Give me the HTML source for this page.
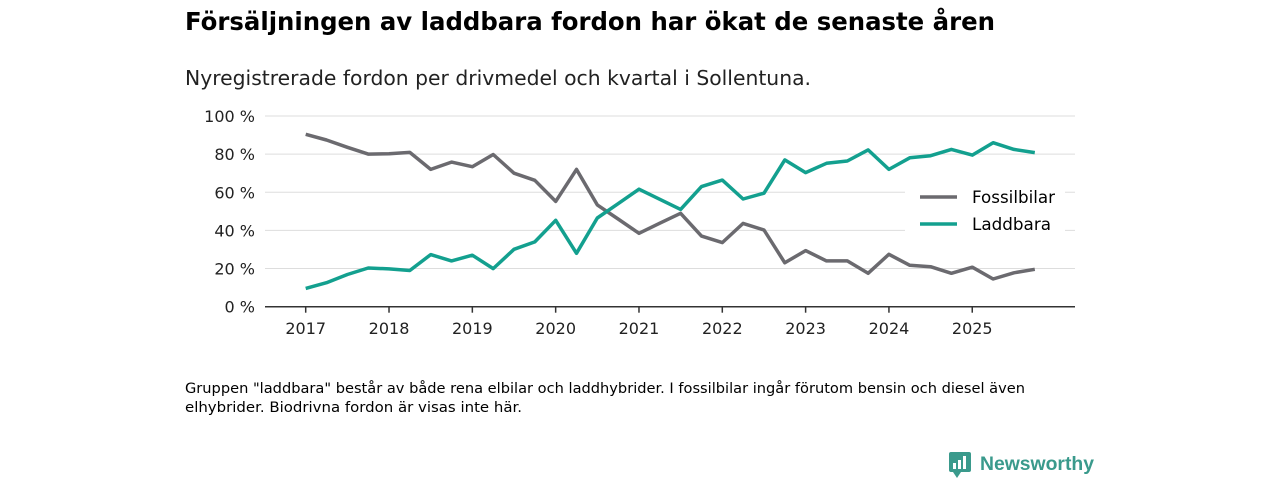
<!DOCTYPE html>
<html><head><meta charset="utf-8"><style>
body{margin:0;width:1280px;height:480px;background:#fff;overflow:hidden;font-family:"DejaVu Sans","Liberation Sans",sans-serif;color:#111}
</style></head><body>
<svg width="1280" height="480" xmlns="http://www.w3.org/2000/svg" font-family="'DejaVu Sans','Liberation Sans',sans-serif">
<text x="185" y="30" font-size="25" font-weight="bold" textLength="810" lengthAdjust="spacingAndGlyphs">Försäljningen av laddbara fordon har ökat de senaste åren</text>
<text x="185" y="85" font-size="20" textLength="626" lengthAdjust="spacingAndGlyphs" fill="#222">Nyregistrerade fordon per drivmedel och kvartal i Sollentuna.</text>
<g id="grid"></g>
<g id="series"></g>
<g>
<rect x="905" y="180" width="160" height="60" fill="#fff"/>
<line x1="920" y1="197" x2="957" y2="197" stroke="#6b6a6f" stroke-width="3.5"/>
<text x="972" y="203" font-size="17" textLength="83" lengthAdjust="spacingAndGlyphs">Fossilbilar</text>
<line x1="920" y1="224" x2="957" y2="224" stroke="#13a08f" stroke-width="3.5"/>
<text x="972" y="230" font-size="17" textLength="79" lengthAdjust="spacingAndGlyphs">Laddbara</text>
</g>
<text x="185" y="393" font-size="14" textLength="840" lengthAdjust="spacingAndGlyphs">Gruppen "laddbara" består av både rena elbilar och laddhybrider. I fossilbilar ingår förutom bensin och diesel även</text>
<text x="185" y="412" font-size="14" textLength="337" lengthAdjust="spacingAndGlyphs">elhybrider. Biodrivna fordon är visas inte här.</text>
<g>
<rect x="949" y="452" width="22" height="20" rx="2" fill="#3a9a8c"/>
<path d="M953 472 L957 478 L961 472 Z" fill="#3a9a8c"/>
<rect x="953" y="463" width="3" height="6" fill="#fff"/><rect x="958" y="460" width="3" height="9" fill="#fff"/><rect x="963" y="456" width="3" height="13" fill="#fff"/>
<text x="980" y="470" font-size="19" font-weight="bold" fill="#3a9a8c" font-family="'Liberation Sans',sans-serif" textLength="114" lengthAdjust="spacingAndGlyphs">Newsworthy</text>
</g>
</svg>
<script>
const years=["2017","2018","2019","2020","2021","2022","2023","2024","2025"];
const yTicks=[0,20,40,60,80,100];
const yTickLabels=["0 %","20 %","40 %","60 %","80 %","100 %"];
const fossil=[90.4,87.4,83.6,80,80.2,80.9,72,75.8,73.4,79.8,70,66.3,55.2,72,53.4,46,38.5,43.8,49,37,33.6,43.7,40.2,23,29.4,24,24,17.5,27.5,21.7,21,17.5,20.7,14.5,17.8,19.6];
const laddbara=[9.6,12.6,16.9,20.3,19.8,19,27.3,24,27,20,30.1,34,45.3,28,46.5,54,61.6,56.3,51,63,66.4,56.5,59.5,77,70.3,75.2,76.4,82.2,72,78.1,79.2,82.5,79.5,86,82.5,80.8];
const NS="http://www.w3.org/2000/svg";
const x=q=>305.7+q*20.83;
const y=v=>306.7-v*1.907;
const grid=document.getElementById('grid');
function mk(t,a,p){const e=document.createElementNS(NS,t);for(const k in a)e.setAttribute(k,a[k]);p.appendChild(e);return e;}
yTicks.forEach((v,i)=>{
 if(v>0){const l=mk('line',{x1:265,x2:1075,y1:y(v),y2:y(v),stroke:'#dddddd','stroke-width':1},grid);
 
 }
 const t=mk('text',{x:255,y:y(v)+6,'font-size':16,'text-anchor':'end',fill:'#222'},grid);
 
 
 t.textContent=yTickLabels[i];
});
const ax=mk('line',{x1:265,x2:1075,y1:y(0),y2:y(0),stroke:'#333','stroke-width':1.5},grid);


years.forEach((yr,i)=>{
 const tx=x(i*4);
 const tk=mk('line',{x1:tx,x2:tx,y1:y(0),y2:y(0)+6,stroke:'#333','stroke-width':1.5},grid);
 
 
 const t=mk('text',{x:tx,y:334,'font-size':16,'text-anchor':'middle',fill:'#222'},grid);
 
 
 t.textContent=yr;
});
const ser=document.getElementById('series');
function line(data,color,name){
 const d=data.map((v,i)=>(i?'L':'M')+x(i).toFixed(1)+' '+y(v).toFixed(1)).join(' ');
 const p=mk('path',{d:d,fill:'none',stroke:color,'stroke-width':3.5,'stroke-linejoin':'round'},ser);
 
 
}
line(fossil,'#6b6a6f','fossilbilar-line');
line(laddbara,'#13a08f','laddbara-line');
</script>
</body></html>
